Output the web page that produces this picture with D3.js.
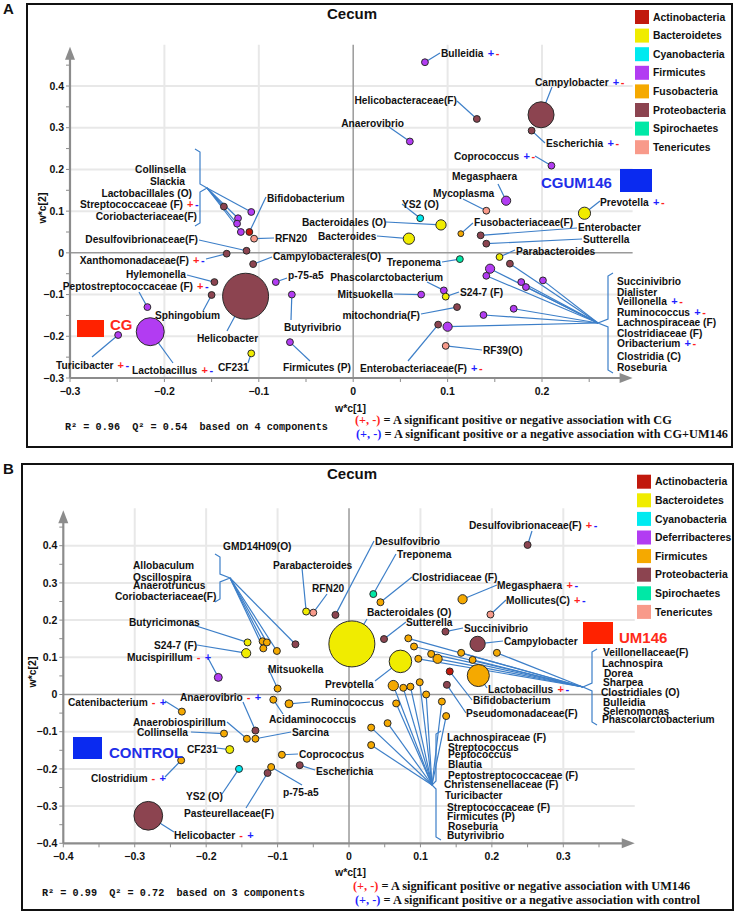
<!DOCTYPE html>
<html>
<head>
<meta charset="utf-8">
<script src="https://cdn.jsdelivr.net/npm/d3@7"></script>
<style>
  body { margin: 0; background: #fff; }
  svg text { font-family: "Liberation Sans", Arial, sans-serif; fill: #111; }
  .lbl { font-size: 10.2px; font-weight: bold; }
  .tick { font-size: 10.5px; font-weight: bold; }
  .leg { font-size: 10.4px; font-weight: bold; }
  .title { font-size: 15px; font-weight: bold; }
  .letter { font-size: 15px; font-weight: bold; }
  .stat { font-family: "Liberation Mono", "DejaVu Sans Mono", monospace !important; font-size: 10.2px; font-weight: bold; white-space: pre; }
  .note { font-family: "Liberation Serif", "Times New Roman", serif !important; font-size: 12.3px; font-weight: bold; }
  .grp { font-size: 15px; font-weight: bold; }
</style>
</head>
<body>
<div id="chart"></div>
<script>
// ---------- legend / phyla ----------
var phylaA = ["Actinobacteria", "Bacteroidetes", "Cyanobacteria", "Firmicutes", "Fusobacteria", "Proteobacteria", "Spirochaetes", "Tenericutes"];
var phylaB = ["Actinobacteria", "Bacteroidetes", "Cyanobacteria", "Deferribacteres", "Firmicutes", "Proteobacteria", "Spirochaetes", "Tenericutes"];
var coloursA = ["#c1190d", "#f0ec00", "#00eaf0", "#b23cf2", "#f5a900", "#8c4450", "#00e8a6", "#f89a8a"];
var coloursB = ["#c1190d", "#f0ec00", "#00eaf0", "#b23cf2", "#f5a900", "#8c4450", "#00e8a6", "#f89a8a"];

var xTicksA = [-0.3, -0.2, -0.1, 0, 0.1, 0.2];
var yTicksA = [-0.3, -0.2, -0.1, 0, 0.1, 0.2, 0.3, 0.4];
var xTicksB = [-0.4, -0.3, -0.2, -0.1, 0, 0.1, 0.2, 0.3];
var yTicksB = [-0.4, -0.3, -0.2, -0.1, 0, 0.1, 0.2, 0.3, 0.4];

// ---------- panel A (CG vs CGUM146) ----------
var taxaA = ["Bulleidia", "Campylobacter", "Escherichia", "Helicobacteraceae(F)", "Anaerovibrio", "Coprococcus", "Megasphaera", "Mycoplasma",
  "YS2 (O)", "Prevotella", "Bacteroidales (O)", "Bacteroides", "Fusobacteriaceae(F)", "Enterobacter", "Sutterella", "Parabacteroides",
  "Treponema", "Succinivibrio", "Dialister", "Veillonella", "Ruminococcus", "Lachnospiraceae (F)", "Clostridiaceae (F)", "Oribacterium",
  "Clostridia (C)", "Roseburia", "mitochondria(F)", "RF39(O)", "Enterobacteriaceae(F)", "Mitsuokella", "Phascolarctobacterium", "S24-7 (F)",
  "Collinsella", "Slackia", "Lactobacillales (O)", "Streptococcaceae (F)", "Coriobacteriaceae(F)", "Bifidobacterium", "RFN20", "Desulfovibrionaceae(F)",
  "Xanthomonadaceae(F)", "Campylobacterales(O)", "Hylemonella", "Peptostreptococcaceae (F)", "Sphingobium", "Helicobacter", "p-75-a5", "Butyrivibrio",
  "Firmicutes (P)", "CF231", "Lactobacillus", "Turicibacter"];
var wc1A = [0.076, 0.199, 0.189, 0.131, 0.060, 0.210, 0.162, 0.141,
  0.071, 0.245, 0.093, 0.059, 0.114, 0.135, 0.141, 0.155,
  0.113, 0.166, 0.145, 0.141, 0.178, 0.201, 0.183, 0.170,
  0.138, 0.100, 0.110, 0.098, 0.090, 0.072, 0.096, 0.098,
  -0.137, -0.108, -0.122, -0.123, -0.119, -0.110, -0.105, -0.113,
  -0.134, -0.106, -0.147, -0.218, -0.150, -0.114, -0.082, -0.065,
  -0.067, -0.108, -0.215, -0.249];
var wc2A = [0.457, 0.331, 0.293, 0.321, 0.267, 0.209, 0.125, 0.101,
  0.083, 0.095, 0.067, 0.034, 0.046, 0.042, 0.022, -0.010,
  -0.015, -0.026, -0.038, -0.055, -0.070, -0.066, -0.082, -0.134,
  -0.149, -0.177, -0.130, -0.223, -0.172, -0.100, -0.090, -0.105,
  0.111, 0.098, 0.083, 0.070, 0.050, 0.050, 0.034, 0.005,
  -0.002, -0.027, -0.070, -0.130, -0.101, -0.104, -0.070, -0.100,
  -0.214, -0.241, -0.189, -0.197];
var phylumA = ["Firmicutes", "Proteobacteria", "Proteobacteria", "Proteobacteria", "Firmicutes", "Firmicutes", "Firmicutes", "Tenericutes",
  "Cyanobacteria", "Bacteroidetes", "Bacteroidetes", "Bacteroidetes", "Fusobacteria", "Proteobacteria", "Proteobacteria", "Bacteroidetes",
  "Spirochaetes", "Proteobacteria", "Firmicutes", "Firmicutes", "Firmicutes", "Firmicutes", "Firmicutes", "Firmicutes",
  "Firmicutes", "Firmicutes", "Proteobacteria", "Tenericutes", "Proteobacteria", "Firmicutes", "Firmicutes", "Bacteroidetes",
  "Proteobacteria", "Firmicutes", "Firmicutes", "Firmicutes", "Firmicutes", "Actinobacteria", "Tenericutes", "Proteobacteria",
  "Proteobacteria", "Proteobacteria", "Proteobacteria", "Firmicutes", "Proteobacteria", "Proteobacteria", "Firmicutes", "Firmicutes",
  "Firmicutes", "Bacteroidetes", "Firmicutes", "Firmicutes"];
var abundA = [2.2, 32, 2.2, 2.2, 2.2, 2.2, 4, 2.2,
  2.2, 7, 5, 6, 1.6, 2.2, 2.2, 2.2,
  2.2, 2.2, 4, 2.2, 2.2, 2.2, 2.2, 2.2,
  2.2, 4, 2.2, 2.2, 2.2, 2.2, 2.2, 2.2,
  2.2, 2.2, 2.2, 2.2, 2.2, 2.2, 2.2, 2.2,
  2.2, 2.2, 2.2, 2.2, 2.2, 100, 2.2, 2.2,
  2.2, 2.2, 37, 2.2];

// ---------- panel B (control vs UM146) ----------
var taxaB = ["Desulfovibrionaceae(F)", "Desulfovibrio", "Treponema", "Clostridiaceae (F)", "Megasphaera", "Mollicutes(C)", "Bacteroidales (O)", "Sutterella",
  "Succinivibrio", "Campylobacter", "Prevotella", "Mitsuokella", "Ruminococcus", "Acidaminococcus", "Sarcina", "Anaerobiospirillum",
  "Anaerovibrio", "Coprococcus", "Escherichia", "Catenibacterium", "Collinsella", "CF231", "Clostridium", "YS2 (O)",
  "Pasteurellaceae(F)", "p-75-a5", "Helicobacter", "Mucispirillum", "Butyricimonas", "S24-7 (F)", "GMD14H09(O)", "Allobaculum",
  "Oscillospira", "Anaerotruncus", "Coriobacteriaceae(F)", "Parabacteroides", "RFN20", "Veillonellaceae(F)", "Lachnospira", "Dorea",
  "Sharpea", "Clostridiales (O)", "Bulleidia", "Selenomonas", "Phascolarctobacterium", "Lactobacillus", "Bifidobacterium", "Pseudomonadaceae(F)",
  "Lachnospiraceae (F)", "Streptococcus", "Peptococcus", "Blautia", "Peptostreptococcaceae (F)", "Christensenellaceae (F)", "Turicibacter", "Streptococcaceae (F)",
  "Firmicutes (P)", "Roseburia", "Butyrivibrio"];
var wc1B = [0.250, -0.019, 0.034, 0.044, 0.159, 0.198, 0.004, 0.049,
  0.135, 0.180, 0.072, -0.100, -0.084, -0.106, -0.131, -0.143,
  -0.131, -0.094, -0.069, -0.234, -0.175, -0.167, -0.235, -0.154,
  -0.114, -0.109, -0.281, -0.183, -0.142, -0.144, -0.075, -0.121,
  -0.115, -0.120, -0.101, -0.060, -0.050, 0.207, 0.173, 0.157,
  0.124, 0.115, 0.097, 0.091, 0.083, 0.181, 0.141, 0.137,
  0.136, 0.130, 0.108, 0.099, 0.086, 0.076, 0.062, 0.066,
  0.054, 0.031, 0.031];
var wc2B = [0.402, 0.214, 0.270, 0.248, 0.256, 0.215, 0.136, 0.149,
  0.169, 0.136, 0.089, 0.016, -0.025, -0.014, -0.119, -0.119,
  -0.097, -0.162, -0.190, -0.046, -0.105, -0.148, -0.177, -0.200,
  -0.211, -0.195, -0.326, 0.046, 0.140, 0.111, 0.135, 0.143,
  0.140, 0.124, 0.117, 0.223, 0.220, 0.112, 0.093, 0.112,
  0.096, 0.109, 0.096, 0.129, 0.151, 0.051, 0.062, 0.026,
  -0.058, -0.019, 0.000, 0.033, 0.021, 0.018, 0.024, -0.024,
  -0.077, -0.089, -0.136];
var phylumB = ["Proteobacteria", "Proteobacteria", "Spirochaetes", "Firmicutes", "Firmicutes", "Tenericutes", "Bacteroidetes", "Proteobacteria",
  "Proteobacteria", "Proteobacteria", "Bacteroidetes", "Firmicutes", "Firmicutes", "Firmicutes", "Firmicutes", "Firmicutes",
  "Proteobacteria", "Firmicutes", "Proteobacteria", "Firmicutes", "Firmicutes", "Bacteroidetes", "Firmicutes", "Cyanobacteria",
  "Proteobacteria", "Firmicutes", "Proteobacteria", "Deferribacteres", "Bacteroidetes", "Bacteroidetes", "Proteobacteria", "Firmicutes",
  "Firmicutes", "Firmicutes", "Firmicutes", "Bacteroidetes", "Tenericutes", "Firmicutes", "Firmicutes", "Firmicutes",
  "Firmicutes", "Firmicutes", "Firmicutes", "Firmicutes", "Firmicutes", "Firmicutes", "Actinobacteria", "Proteobacteria",
  "Firmicutes", "Firmicutes", "Firmicutes", "Firmicutes", "Firmicutes", "Firmicutes", "Firmicutes", "Firmicutes",
  "Firmicutes", "Firmicutes", "Firmicutes"];
var abundB = [2.3, 2.3, 2.3, 2.3, 4, 2.3, 100, 2.3,
  2.3, 11, 24, 2.3, 3, 2.3, 2.3, 2.3,
  2.3, 2.3, 2.3, 2.3, 2.3, 3, 2.3, 2.3,
  2.3, 2.3, 39, 3, 2.3, 4, 2.3, 2.3,
  2.3, 2.3, 2.3, 2.3, 2.3, 2.3, 2.3, 2.3,
  4, 2.3, 2.3, 2.3, 2.3, 23, 2.3, 2.3,
  2.3, 2.3, 2.3, 2.3, 2.3, 2.3, 5, 2.3,
  2.3, 2.3, 2.3];

// label layout: [textX, textY, anchor, leaderX, leaderY, signs]
var labelsA = {
  "Bulleidia": [441, 53, "start", 440, 53, "b+r-"],
  "Campylobacter": [535, 82, "start", 552, 87, "b+r-"],
  "Escherichia": [546, 143, "start", 545, 143, "b+r-"],
  "Helicobacteraceae(F)": [457, 100, "end", 457, 101],
  "Anaerovibrio": [404, 123, "end", 389, 127],
  "Coprococcus": [454, 156, "start", 535, 156, "b+r-"],
  "Megasphaera": [452, 176, "start", 498, 184],
  "Mycoplasma": [433, 193, "start", 463, 199],
  "YS2 (O)": [402, 204, "start", 402, 204],
  "Prevotella": [600, 202, "start", 600, 201, "b+r-"],
  "Bacteroidales (O)": [302, 222, "start", 386, 222],
  "Bacteroides": [318, 236, "start", 377, 236],
  "Fusobacteriaceae(F)": [474, 222, "start", 473, 223],
  "Enterobacter": [578, 227, "start", 577, 228],
  "Sutterella": [583, 239, "start", 582, 239],
  "Parabacteroides": [516, 251, "start", 515, 250],
  "Treponema": [441, 262, "end", 442, 262],
  "Succinivibrio": [617, 281, "start"],
  "Dialister": [617, 292, "start"],
  "Veillonella": [617, 301, "start", null, null, "b+r-"],
  "Ruminococcus": [617, 312, "start", null, null, "b+r-"],
  "Lachnospiraceae (F)": [617, 322, "start"],
  "Clostridiaceae (F)": [617, 333, "start"],
  "Oribacterium": [617, 343, "start", null, null, "b+r-"],
  "Clostridia (C)": [617, 356, "start"],
  "Roseburia": [617, 367, "start"],
  "mitochondria(F)": [420, 315, "end", 421, 314],
  "RF39(O)": [483, 350, "start", 482, 350],
  "Enterobacteriaceae(F)": [360, 368, "start", 408, 361, "b+r-"],
  "Mitsuokella": [393, 294, "end", 394, 294],
  "Phascolarctobacterium": [443, 277, "end", 427, 282],
  "S24-7 (F)": [460, 292, "start", 459, 292],
  "Collinsella": [186, 169, "end"],
  "Slackia": [185, 181, "end"],
  "Lactobacillales (O)": [192, 193, "end"],
  "Streptococcaceae (F)": [183, 204, "end", null, null, "r+b-"],
  "Coriobacteriaceae(F)": [197, 216, "end"],
  "Bifidobacterium": [267, 198, "start", 266, 197],
  "RFN20": [275, 238, "start", 274, 238],
  "Desulfovibrionaceae(F)": [198, 239, "end", 199, 240],
  "Xanthomonadaceae(F)": [189, 260, "end", 206, 259, "r+b-"],
  "Campylobacterales(O)": [273, 256, "start", 272, 257],
  "Hylemonella": [186, 274, "end", 187, 275],
  "Peptostreptococcaceae (F)": [193, 286, "end", 139, 292, "r+b-"],
  "Sphingobium": [155, 315, "start", 203, 311],
  "Helicobacter": [197, 338, "start", 227, 331],
  "p-75-a5": [288, 275, "start", 287, 278],
  "Butyrivibrio": [284, 327, "start", 291, 320],
  "Firmicutes (P)": [283, 367, "start", 310, 361],
  "CF231": [218, 367, "start", 248, 363],
  "Lactobacillus": [132, 370, "start", 173, 363, "r+b-"],
  "Turicibacter": [56, 365, "start", 92, 357, "r+b-"]
};
var bracketsA = [
  { x: 200, y0: 149, y1: 226, tx: 207, ty: 188, members: ["Collinsella", "Slackia", "Lactobacillales (O)", "Streptococcaceae (F)", "Coriobacteriaceae(F)"] },
  { x: 608, y0: 273, y1: 373, tx: 598, ty: 323, members: ["Succinivibrio", "Dialister", "Veillonella", "Ruminococcus", "Lachnospiraceae (F)", "Clostridiaceae (F)", "Oribacterium", "Clostridia (C)", "Roseburia"] }
];

var labelsB = {
  "Desulfovibrionaceae(F)": [469, 525, "start", 532, 531, "r+b-"],
  "Desulfovibrio": [375, 541, "start", 374, 541],
  "Treponema": [397, 554, "start", 396, 554],
  "Clostridiaceae (F)": [412, 577, "start", 412, 577],
  "Megasphaera": [497, 585, "start", 497, 585, "r+b-"],
  "Mollicutes(C)": [506, 600, "start", 506, 600, "r+b-"],
  "Bacteroidales (O)": [367, 612, "start", 367, 619],
  "Sutterella": [406, 622, "start", 406, 622],
  "Succinivibrio": [464, 628, "start", 463, 628],
  "Campylobacter": [504, 641, "start", 503, 641],
  "Prevotella": [325, 684, "start", 375, 681],
  "Mitsuokella": [268, 669, "start", 268, 668],
  "Ruminococcus": [311, 702, "start", 310, 702],
  "Acidaminococcus": [269, 719, "start", 283, 714],
  "Sarcina": [292, 732, "start", 291, 732],
  "Anaerobiospirillum": [133, 722, "start", 227, 722],
  "Anaerovibrio": [180, 697, "start", 243, 702, "r-b+"],
  "Coprococcus": [299, 754, "start", 298, 754],
  "Escherichia": [316, 771, "start", 315, 770],
  "Catenibacterium": [68, 702, "start", 165, 701, "r-b+"],
  "Collinsella": [137, 732, "start", 191, 732],
  "CF231": [187, 749, "start", 217, 748],
  "Clostridium": [91, 778, "start", 165, 777, "r-b+"],
  "YS2 (O)": [186, 796, "start", 222, 794],
  "Pasteurellaceae(F)": [184, 813, "start", 246, 808],
  "p-75-a5": [283, 792, "start", 302, 785],
  "Helicobacter": [174, 835, "start", 174, 832, "r-b+"],
  "Mucispirillum": [127, 657, "start", 208, 658, "r-b+"],
  "Butyricimonas": [129, 622, "start", 190, 624],
  "S24-7 (F)": [154, 645, "start", 197, 645],
  "GMD14H09(O)": [223, 546, "start"],
  "Allobaculum": [133, 565, "start"],
  "Oscillospira": [133, 577, "start"],
  "Anaerotruncus": [133, 585, "start"],
  "Coriobacteriaceae(F)": [115, 596, "start"],
  "Parabacteroides": [273, 565, "start", 302, 568],
  "RFN20": [312, 588, "start", 327, 594],
  "Veillonellaceae(F)": [603, 652, "start"],
  "Lachnospira": [602, 663, "start"],
  "Dorea": [604, 673, "start"],
  "Sharpea": [603, 682, "start"],
  "Clostridiales (O)": [601, 692, "start"],
  "Bulleidia": [603, 702, "start"],
  "Selenomonas": [603, 711, "start"],
  "Phascolarctobacterium": [602, 719, "start"],
  "Lactobacillus": [488, 689, "start", 487, 688, "r+b-"],
  "Bifidobacterium": [473, 700, "start", 472, 700],
  "Pseudomonadaceae(F)": [466, 713, "start", 466, 713],
  "Lachnospiraceae (F)": [447, 737, "start"],
  "Streptococcus": [448, 747, "start"],
  "Peptococcus": [448, 754, "start"],
  "Blautia": [448, 764, "start"],
  "Peptostreptococcaceae (F)": [448, 775, "start"],
  "Christensenellaceae (F)": [444, 784, "start"],
  "Turicibacter": [445, 795, "start"],
  "Streptococcaceae (F)": [447, 807, "start"],
  "Firmicutes (P)": [447, 816, "start"],
  "Roseburia": [448, 826, "start"],
  "Butyrivibrio": [447, 835, "start"]
};
var bracketsB = [
  { x: 220, y0: 554, y1: 602, tx: 230, ty: 578, members: ["GMD14H09(O)", "Allobaculum", "Oscillospira", "Anaerotruncus", "Coriobacteriaceae(F)"] },
  { x: 592, y0: 649, y1: 725, tx: 583, ty: 687, members: ["Veillonellaceae(F)", "Lachnospira", "Dorea", "Sharpea", "Clostridiales (O)", "Bulleidia", "Selenomonas", "Phascolarctobacterium"] },
  { x: 436, y0: 731, y1: 840, tx: 432, ty: 785, members: ["Lachnospiraceae (F)", "Streptococcus", "Peptococcus", "Blautia", "Peptostreptococcaceae (F)", "Christensenellaceae (F)", "Turicibacter", "Streptococcaceae (F)", "Firmicutes (P)", "Roseburia", "Butyrivibrio"] }
];

var width = 737, height = 915;
var svg = d3.select("#chart").append("svg").attr("width", width).attr("height", height);

var RED = "#ff1f1f", BLUE = "#1f1fff", LEAD = "#3d7fc8", AXIS = "#8c8c8c";
var rScale = d3.scaleSqrt().domain([0, 100]).range([0, 23]);

function drawPanel(o) {
  var g = svg.append("g");
  var x = o.x, y = o.y;
  var x0 = x(o.xTicks[0]), yb = y(o.yTicks[0]);
  var xEnd = x(o.xMax), yTop = y(o.yMax);
  var colour = d3.scaleOrdinal().domain(o.phyla).range(o.colours);

  g.append("rect").attr("x", o.frame[0]).attr("y", o.frame[1])
    .attr("width", o.frame[2] - o.frame[0]).attr("height", o.frame[3] - o.frame[1])
    .attr("fill", "none").attr("stroke", "#111").attr("stroke-width", 2);
  g.append("text").attr("class", "letter").attr("x", 3).attr("y", o.frame[1] + 10).text(o.letter);
  g.append("text").attr("class", "title").attr("x", 352).attr("y", o.frame[1] + 10)
    .attr("dy", "0.35em").attr("text-anchor", "middle").text("Cecum");

  // grid
  o.yTicks.slice(1).forEach(function (v) {
    if (v === 0) return;
    g.append("line").attr("x1", x0).attr("x2", xEnd).attr("y1", y(v)).attr("y2", y(v))
      .attr("stroke", "#e8e8e8").attr("stroke-width", 2);
  });
  o.xTicks.slice(1).forEach(function (v) {
    if (v === 0) return;
    g.append("line").attr("x1", x(v)).attr("x2", x(v)).attr("y1", yb).attr("y2", yTop - 2)
      .attr("stroke", "#e8e8e8").attr("stroke-width", 2);
  });
  g.append("line").attr("x1", x0).attr("x2", xEnd).attr("y1", y(0)).attr("y2", y(0))
    .attr("stroke", "#9a9a9a").attr("stroke-width", 1.5);
  g.append("line").attr("x1", x(0)).attr("x2", x(0)).attr("y1", yb).attr("y2", yTop - 2)
    .attr("stroke", "#9a9a9a").attr("stroke-width", 1.5);

  // axes with arrows
  g.append("line").attr("x1", x0).attr("x2", x0).attr("y1", yb).attr("y2", yTop + 8)
    .attr("stroke", AXIS).attr("stroke-width", 2.2);
  g.append("path").attr("d", "M" + (x0 - 5) + "," + (yTop + 13) + "L" + x0 + "," + yTop + "L" + (x0 + 5) + "," + (yTop + 13) + "Z")
    .attr("fill", AXIS);
  g.append("line").attr("x1", x0).attr("x2", xEnd - 8).attr("y1", yb).attr("y2", yb)
    .attr("stroke", AXIS).attr("stroke-width", 2.2);
  g.append("path").attr("d", "M" + (xEnd - 13) + "," + (yb - 5) + "L" + xEnd + "," + yb + "L" + (xEnd - 13) + "," + (yb + 5) + "Z")
    .attr("fill", AXIS);

  // minor ticks every 0.05
  d3.range(o.yTicks[0], o.yMax - 0.02, 0.05).forEach(function (v) {
    g.append("line").attr("x1", x0 - 4).attr("x2", x0).attr("y1", y(v)).attr("y2", y(v))
      .attr("stroke", AXIS).attr("stroke-width", 1);
  });
  d3.range(o.xTicks[0], o.xMax - 0.02, 0.05).forEach(function (v) {
    g.append("line").attr("x1", x(v)).attr("x2", x(v)).attr("y1", yb).attr("y2", yb + 4)
      .attr("stroke", AXIS).attr("stroke-width", 1);
  });

  var fmt = function (v) { return v === 0 ? "0" : d3.format(".1f")(v); };
  o.yTicks.forEach(function (v) {
    g.append("text").attr("class", "tick").attr("x", x0 - 6).attr("y", y(v)).attr("dy", "0.35em")
      .attr("text-anchor", "end").text(fmt(v));
  });
  o.xTicks.forEach(function (v) {
    g.append("text").attr("class", "tick").attr("x", x(v)).attr("y", yb + 13).attr("dy", "0.35em")
      .attr("text-anchor", "middle").text(fmt(v));
  });
  g.append("text").attr("class", "tick").attr("x", o.xLab[0]).attr("y", o.xLab[1]).attr("dy", "0.35em").text("w*c[1]");
  g.append("text").attr("class", "tick").attr("transform", "translate(" + o.yLab[0] + "," + o.yLab[1] + ") rotate(-90)")
    .attr("dy", "0.35em").attr("text-anchor", "middle").text("w*c[2]");

  var pts = o.taxa.map(function (t, i) {
    return { name: t, x: x(o.wc1[i]), y: y(o.wc2[i]), phylum: o.phylum[i], r: rScale(o.abund[i]) };
  });
  var byName = {};
  pts.forEach(function (p) { byName[p.name] = p; });

  // leader lines
  var lines = g.append("g").attr("stroke", LEAD).attr("stroke-width", 1.2).attr("fill", "none");
  pts.forEach(function (p) {
    var l = o.labels[p.name];
    if (l && l[3] != null) {
      lines.append("line").attr("x1", l[3]).attr("y1", l[4]).attr("x2", p.x).attr("y2", p.y);
    }
  });
  o.brackets.forEach(function (b) {
    var d = b.x > b.tx ? 5 : -5;
    lines.append("path").attr("d",
      "M" + (b.x + d) + "," + b.y0 + "L" + b.x + "," + (b.y0 + 3) + "L" + b.x + "," + (b.ty - 4) +
      "L" + b.tx + "," + b.ty + "L" + b.x + "," + (b.ty + 4) + "L" + b.x + "," + (b.y1 - 3) +
      "L" + (b.x + d) + "," + b.y1);
    b.members.forEach(function (m) {
      var p = byName[m];
      lines.append("line").attr("x1", b.tx).attr("y1", b.ty).attr("x2", p.x).attr("y2", p.y);
    });
  });

  // points, biggest first
  g.append("g").selectAll("circle")
    .data(pts.slice().sort(function (a, b) { return b.r - a.r; }))
    .enter().append("circle")
    .attr("cx", function (d) { return d.x; })
    .attr("cy", function (d) { return d.y; })
    .attr("r", function (d) { return d.r; })
    .attr("fill", function (d) { return colour(d.phylum); })
    .attr("stroke", "#2a2a2a").attr("stroke-width", 1);

  // labels
  pts.forEach(function (p) {
    var l = o.labels[p.name];
    if (!l) return;
    var t = g.append("text").attr("class", "lbl").attr("x", l[0]).attr("y", l[1]).attr("dy", "0.35em")
      .attr("text-anchor", l[2]).text(p.name);
    if (l[5]) {
      var bb = t.node().getBBox();
      var sx = bb.x + bb.width + 4;
      for (var k = 0; k < l[5].length; k += 2) {
        g.append("text").attr("class", "lbl").attr("x", sx).attr("y", l[1]).attr("dy", "0.35em")
          .style("fill", l[5][k] === "r" ? RED : BLUE).style("font-size", "11px").text(l[5][k + 1]);
        sx += 8;
      }
    }
  });

  // legend
  o.phyla.forEach(function (ph, i) {
    var cy = o.legend[1] + i * 18.6;
    g.append("rect").attr("x", o.legend[0]).attr("y", cy - 7).attr("width", 14).attr("height", 14)
      .attr("fill", o.colours[i]);
    g.append("text").attr("class", "leg").attr("x", o.legend[0] + 18).attr("y", cy).attr("dy", "0.35em").text(ph);
  });

  // group markers
  o.groups.forEach(function (gr) {
    g.append("rect").attr("x", gr.box[0]).attr("y", gr.box[1]).attr("width", gr.box[2]).attr("height", gr.box[3])
      .attr("fill", gr.fill);
    g.append("text").attr("class", "grp").attr("x", gr.text[0]).attr("y", gr.text[1]).attr("dy", "0.35em")
      .style("fill", gr.colour).text(gr.name);
  });

  g.append("text").attr("class", "stat").attr("x", o.stat[0]).attr("y", o.stat[1]).attr("dy", "0.35em")
    .attr("xml:space", "preserve").text(o.statText);

  o.notes.forEach(function (n) {
    var t = g.append("text").attr("class", "note").attr("x", n.x).attr("y", n.y).attr("dy", "0.35em");
    t.append("tspan").style("fill", n.c).text("(+, -)");
    t.append("tspan").style("fill", "#111").text(" = " + n.text);
  });
}

drawPanel({
  letter: "A", frame: [27, 4, 732, 447],
  x: d3.scaleLinear().domain([-0.3, 0.2]).range([70, 542]),
  y: d3.scaleLinear().domain([-0.3, 0.4]).range([378, 86]),
  xTicks: xTicksA, yTicks: yTicksA, xMax: 0.296, yMax: 0.494,
  xLab: [335, 408], yLab: [42, 208],
  taxa: taxaA, wc1: wc1A, wc2: wc2A, phylum: phylumA, abund: abundA,
  phyla: phylaA, colours: coloursA, legend: [635, 17],
  labels: labelsA, brackets: bracketsA,
  groups: [
    { name: "CG", box: [77, 320, 27, 17], fill: "#ff2200", text: [110, 325], colour: "#ff2a1a" },
    { name: "CGUM146", box: [620, 169, 32, 23], fill: "#0a2af0", text: [541, 183], colour: "#1e2ee8" }
  ],
  stat: [65, 426], statText: "R\u00b2 = 0.96  Q\u00b2 = 0.54  based on 4 components",
  notes: [
    { x: 355, y: 420, c: RED, text: "A significant positive or negative association with CG" },
    { x: 356, y: 434, c: BLUE, text: "A significant positive or a negative association with CG+UM146" }
  ]
});

drawPanel({
  letter: "B", frame: [22, 464, 733, 910],
  x: d3.scaleLinear().domain([-0.4, 0.3]).range([63.3, 563.3]),
  y: d3.scaleLinear().domain([-0.4, 0.4]).range([843.3, 545.7]),
  xTicks: xTicksB, yTicks: yTicksB, xMax: 0.4, yMax: 0.4955,
  xLab: [335, 872], yLab: [32, 672],
  taxa: taxaB, wc1: wc1B, wc2: wc2B, phylum: phylumB, abund: abundB,
  phyla: phylaB, colours: coloursB, legend: [637, 481.7],
  labels: labelsB, brackets: bracketsB,
  groups: [
    { name: "UM146", box: [583, 622, 30, 22], fill: "#ff2200", text: [619, 638], colour: "#ff2a1a" },
    { name: "CONTROL", box: [73, 737, 29, 22], fill: "#0a2af0", text: [109, 753], colour: "#1e2ee8" }
  ],
  stat: [42, 892], statText: "R\u00b2 = 0.99  Q\u00b2 = 0.72  based on 3 components",
  notes: [
    { x: 353, y: 886, c: RED, text: "A significant positive or negative association with UM146" },
    { x: 355, y: 900, c: BLUE, text: "A significant positive or a negative association with control" }
  ]
});
</script>
</body>
</html>
